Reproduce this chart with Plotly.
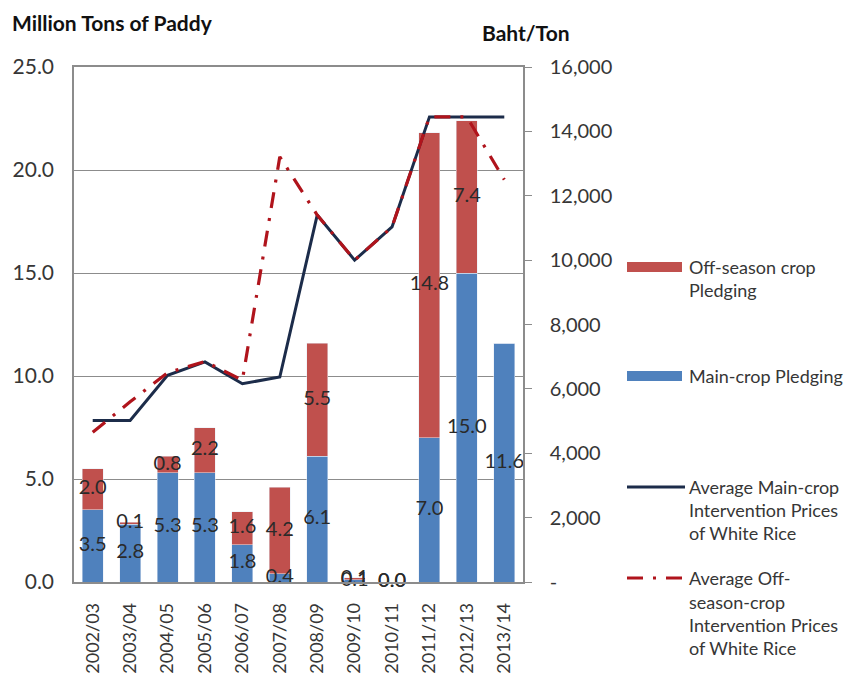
import plotly.graph_objects as go

# Crop years
years = ["2002/03", "2003/04", "2004/05", "2005/06", "2006/07", "2007/08",
         "2008/09", "2009/10", "2010/11", "2011/12", "2012/13", "2013/14"]

# Pledged paddy volumes (million tons)
main_pledge = [3.5, 2.8, 5.3, 5.3, 1.8, 0.4, 6.1, 0.1, 0.0, 7.0, 15.0, 11.6]
off_pledge = [2.0, 0.1, 0.8, 2.2, 1.6, 4.2, 5.5, 0.1, 0.0, 14.8, 7.4, None]

# Average intervention prices of white rice (baht/ton)
main_price = [5020, 5020, 6420, 6840, 6160, 6370, 11400, 10000, 11030, 14450, 14450, 14450]
off_price = [4650, 5600, 6500, 6850, 6270, 13210, 11400, 10000, 11030, 14450, 14450, 12500]

left_ticks = [0, 5, 10, 15, 20, 25]
right_ticks = [0, 2000, 4000, 6000, 8000, 10000, 12000, 14000, 16000]
right_tick_text = ["-"] + [f"{v:,}" for v in right_ticks[1:]]

BLUE = "#4f81bd"
RED = "#c0504d"
NAVY = "#1c2c4a"
DARKRED = "#b0141c"
GRID = "#8c8c8c"
TXT = "#363636"
LBL = "#2a2a2a"
FONT = "Lato"
DASHDOT = "16px,10px,3px,10px"

W, H = 844, 675
L, R, T, B = 74, 321, 67, 93
PW, PH = W - L - R, H - T - B


def px(x):
    return (x - L) / PW


def py(y):
    return (H - B - y) / PH


fig = go.Figure()

fig.add_trace(go.Bar(x=years, y=main_pledge, marker_color=BLUE, name="Main-crop Pledging",
                     showlegend=False))
fig.add_trace(go.Bar(x=years, y=[v if v is not None else 0 for v in off_pledge],
                     marker_color=RED, name="Off-season crop Pledging", showlegend=False))

# Segment value labels, centred in each stacked segment
main_lbl_y = [v / 2 for v in main_pledge]
off_x, off_lbl_y, off_txt = [], [], []
for yr, m, o in zip(years, main_pledge, off_pledge):
    if o is None:
        continue
    off_x.append(yr)
    off_lbl_y.append(m + o / 2)
    off_txt.append(f"{o:.1f}")

fig.add_trace(go.Scatter(x=years, y=main_lbl_y, mode="text",
                         text=[f"{v:.1f}" for v in main_pledge],
                         textfont=dict(family=FONT, size=20, color=LBL),
                         cliponaxis=False, showlegend=False, hoverinfo="skip"))
fig.add_trace(go.Scatter(x=off_x, y=off_lbl_y, mode="text", text=off_txt,
                         textfont=dict(family=FONT, size=20, color=LBL),
                         cliponaxis=False, showlegend=False, hoverinfo="skip"))

fig.add_trace(go.Scatter(x=years, y=main_price, yaxis="y2", mode="lines",
                         line=dict(color=NAVY, width=3), showlegend=False,
                         name="Average Main-crop Intervention Prices of White Rice"))
fig.add_trace(go.Scatter(x=years, y=off_price, yaxis="y2", mode="lines",
                         line=dict(color=DARKRED, width=3.2, dash=DASHDOT), showlegend=False,
                         name="Average Off-season-crop Intervention Prices of White Rice"))

fig.update_layout(
    width=W, height=H,
    margin=dict(l=L, r=R, t=T, b=B),
    paper_bgcolor="white", plot_bgcolor="white",
    barmode="stack", bargap=0.44,
    font=dict(family=FONT, color=TXT),
    xaxis=dict(
        type="category", range=[-0.5, 11.5], tickangle=-90, automargin=False,
        tickfont=dict(family=FONT, size=18, color=TXT),
        showline=True, linecolor=GRID, linewidth=1.5, mirror=True,
        ticks="", ticklabelstandoff=12, showgrid=False,
    ),
    yaxis=dict(
        range=[0, 25], tickvals=left_ticks, tickformat=".1f", automargin=False,
        tickfont=dict(family=FONT, size=21, color=TXT),
        showgrid=True, gridcolor=GRID, gridwidth=1,
        showline=True, linecolor=GRID, linewidth=1.5,
        ticks="outside", ticklen=0, tickcolor="rgba(0,0,0,0)",
        ticklabelstandoff=14, zeroline=False,
    ),
    yaxis2=dict(
        overlaying="y", side="right", range=[0, 16000], automargin=False,
        tickvals=right_ticks, ticktext=right_tick_text,
        tickfont=dict(family=FONT, size=20, color=TXT),
        showgrid=False, showline=True, linecolor=GRID, linewidth=1.5,
        ticks="outside", ticklen=7, tickcolor=GRID, ticklabelstandoff=14,
        zeroline=False,
    ),
    showlegend=False,
)

annotations = [
    dict(text="<b>Million Tons of Paddy</b>", x=px(10), y=py(22), xanchor="left",
         yanchor="middle", font=dict(family=FONT, size=21, color="#111111")),
    dict(text="<b>Baht/Ton</b>", x=px(480), y=py(32), xanchor="left",
         yanchor="middle", font=dict(family=FONT, size=21, color="#111111")),
]

legend_lines = [
    (267, "Off-season crop"), (290, "Pledging"),
    (376, "Main-crop Pledging"),
    (487, "Average Main-crop"), (510, "Intervention Prices"), (533, "of White Rice"),
    (578, "Average Off-"), (602, "season-crop"), (625, "Intervention Prices"),
    (648, "of White Rice"),
]
for ypix, txt in legend_lines:
    annotations.append(dict(text=txt, x=px(687), y=py(ypix), xanchor="left",
                            yanchor="middle", font=dict(family=FONT, size=18, color=TXT)))

for a in annotations:
    a.update(xref="paper", yref="paper", showarrow=False)
fig.update_layout(annotations=annotations)

shapes = [
    dict(type="rect", x0=px(627), x1=px(682), y0=py(262), y1=py(272),
         fillcolor=RED, line=dict(width=0)),
    dict(type="rect", x0=px(627), x1=px(682), y0=py(371), y1=py(381),
         fillcolor=BLUE, line=dict(width=0)),
    dict(type="line", x0=px(627), x1=px(685), y0=py(487), y1=py(487),
         line=dict(color=NAVY, width=3)),
    dict(type="line", x0=px(627), x1=px(685), y0=py(578), y1=py(578),
         line=dict(color=DARKRED, width=3.2, dash=DASHDOT)),
]
for s in shapes:
    s.update(xref="paper", yref="paper")
fig.update_layout(shapes=shapes)

fig.write_html("out.html")
